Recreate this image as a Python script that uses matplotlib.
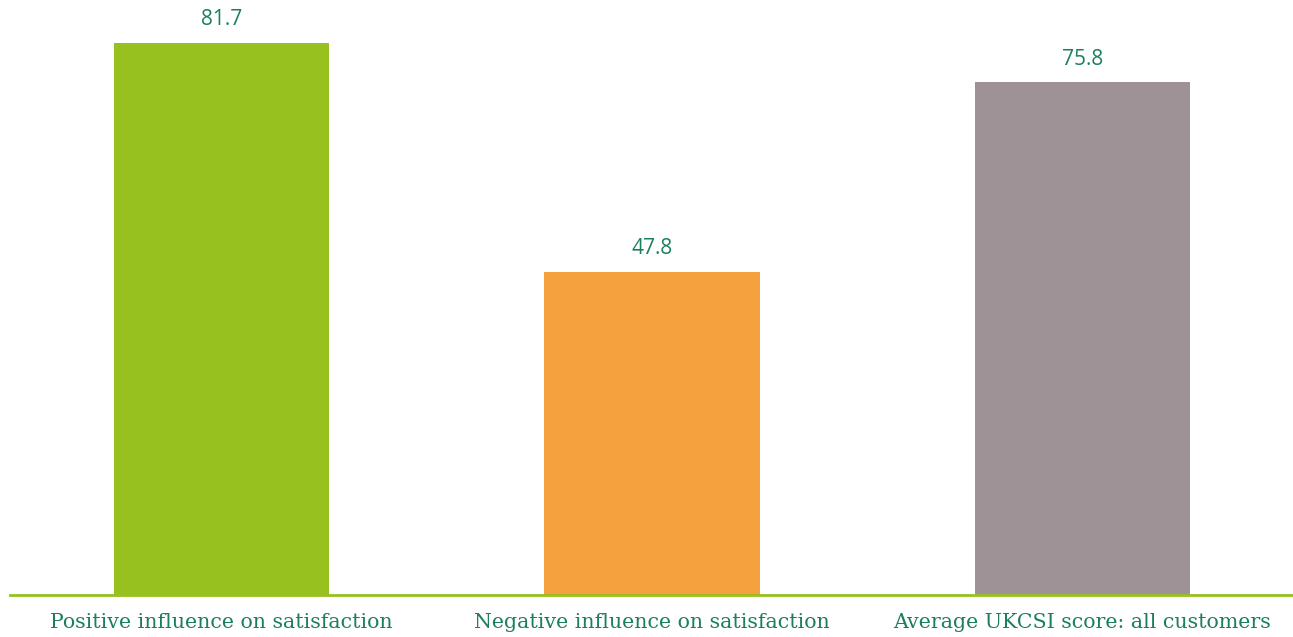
import matplotlib
matplotlib.use("Agg")
import matplotlib.pyplot as plt

categories = ["Positive influence on satisfaction",
              "Negative influence on satisfaction",
              "Average UKCSI score: all customers"]
values = [81.7, 47.8, 75.8]
colors = ["#96C11F", "#F4A13E", "#9E9297"]
text_color = "#1B7F5F"

W, H = 1293, 637
fig = plt.figure(figsize=(W / 100, H / 100), dpi=100)
ax = fig.add_axes([10 / W, 42 / H, 1 - 10 / W, 1 - 42 / H])

x = list(range(len(categories)))
bars = ax.bar(x, values, width=0.5, color=colors, zorder=2)
ax.set_xlim(-0.491, 2.489)
ax.set_ylim(0, 88)

for xi, v in zip(x, values):
    ax.annotate(f"{v:.1f}", (xi, v), xytext=(0, 16.5), textcoords="offset points",
                ha="center", va="center", color=text_color,
                fontsize=15, family=["Open Sans", "DejaVu Sans"])

for s in ["top", "right", "left"]:
    ax.spines[s].set_visible(False)
ax.spines["bottom"].set_color("#96C11F")
ax.spines["bottom"].set_linewidth(2)
ax.set_yticks([])
ax.set_xticks(x)
ax.set_xticklabels(categories, color=text_color, fontsize=14.8,
                   family=["DejaVu Serif"])
ax.tick_params(axis="x", length=0, pad=13)

fig.savefig("out.png", dpi=100)
